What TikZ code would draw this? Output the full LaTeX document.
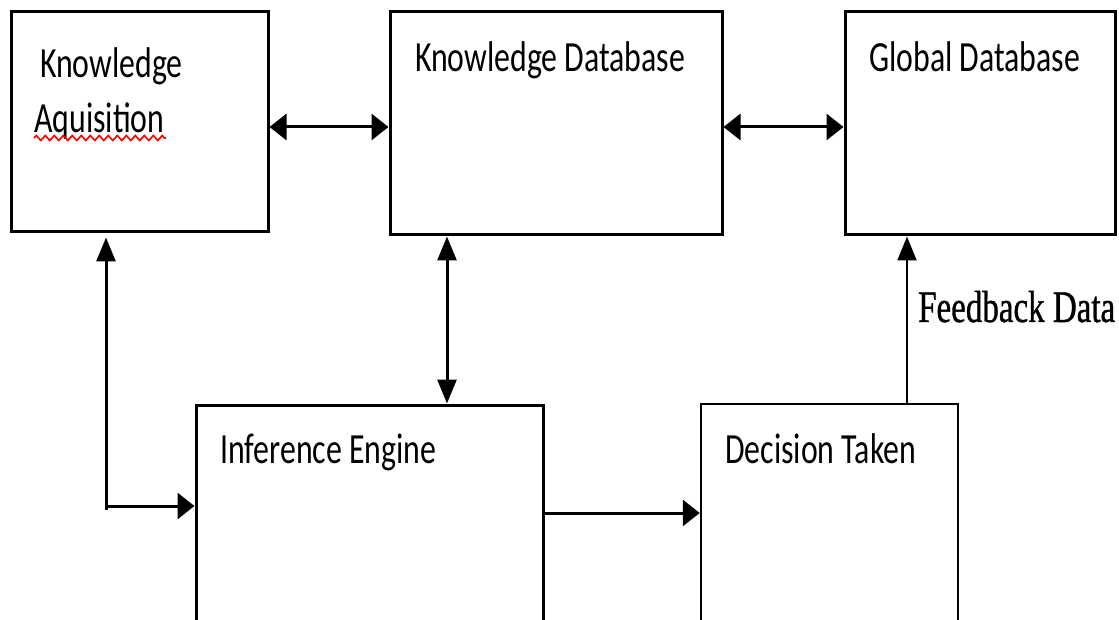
\documentclass[tikz,border=0pt]{standalone}
\usepackage{fontspec}
\usepackage{graphicx}
\usetikzlibrary{arrows.meta,decorations.pathmorphing}
\newfontfamily\boxfont[FakeStretch=0.74]{Carlito}
\newfontfamily\lblfont[FakeBold=1]{Liberation Serif}
\tikzset{
  box/.style={draw=black, line width=3pt, inner sep=0pt, fill=none},
  txt/.style={anchor=base west, inner sep=0pt, font=\boxfont\fontsize{43}{50}\selectfont},
  lbl/.style={anchor=base west, inner sep=0pt, font=\lblfont\fontsize{45}{50}\selectfont},
  conn/.style={draw=black, line width=3pt},
  thinconn/.style={draw=black, line width=2pt},
  htip/.tip={Triangle[length=17pt,width=26pt]},
  vtip/.tip={Triangle[length=24pt,width=19pt]},
  squiggle/.style={draw=red, line width=1.6pt, decorate,
    decoration={zigzag, segment length=9pt, amplitude=2.5pt}}
}
\begin{document}
\begin{tikzpicture}[x=1pt,y=-1pt]
\useasboundingbox (0,0) rectangle (1119,620);
\clip (0,0) rectangle (1119,620);
% boxes
\node[box, minimum width=257pt, minimum height=220pt] (ka) at (139.5,122) {};
\node[box, minimum width=332pt, minimum height=223pt] (kd) at (556,123.5) {};
\node[box, minimum width=270pt, minimum height=223pt] (gd) at (980,123.5) {};
\node[box, minimum width=347pt, minimum height=295pt] (ie) at (369.5,552.5) {};
\node[box, line width=2.5pt, minimum width=257pt, minimum height=296pt] (dt) at (829.5,552) {};
% texts
\node[txt] (t1) at (40,78) {Knowledge};
\node[txt] (t2) at (34,133) {Aquisition};
\draw[squiggle] (t2.base west) ++(0,5) -- ++(132,0);
\node[txt] (t3) at (415,72) {Knowledge Database};
\node[txt] (t4) at (869,72) {Global Database};
\node[txt] (t5) at (220,463) {Inference Engine};
\node[txt] (t6) at (725,463) {Decision Taken};
\node[lbl] (fb) at (918,322) {\resizebox{197pt}{\height}{Feedback Data}};
% helper coordinates
\coordinate (r1) at (0,127);
\coordinate (r2) at (0,506);
\coordinate (r3) at (0,513);
\coordinate (c1) at (447,0);
\coordinate (c2) at (106,0);
\coordinate (c3) at (907,0);
% connectors
\draw[conn, arrows={htip-htip}] (ka.east |- r1) -- (kd.west |- r1);
\draw[conn, arrows={htip-htip}] (kd.east |- r1) -- (gd.west |- r1);
\draw[conn, arrows={vtip-vtip}] (kd.south -| c1) -- (ie.north -| c1);
\draw[conn, arrows={vtip-htip}, shorten <=4pt] (ka.south -| c2) |- (ie.west |- r2);
\draw[conn] (r2 -| c2) -- ++(0,4);
\draw[conn, arrows={-htip}] (ie.east |- r3) -- (dt.west |- r3);
\draw[thinconn, arrows={-vtip}] (dt.north -| c3) -- (gd.south -| c3);
\end{tikzpicture}
\end{document}
